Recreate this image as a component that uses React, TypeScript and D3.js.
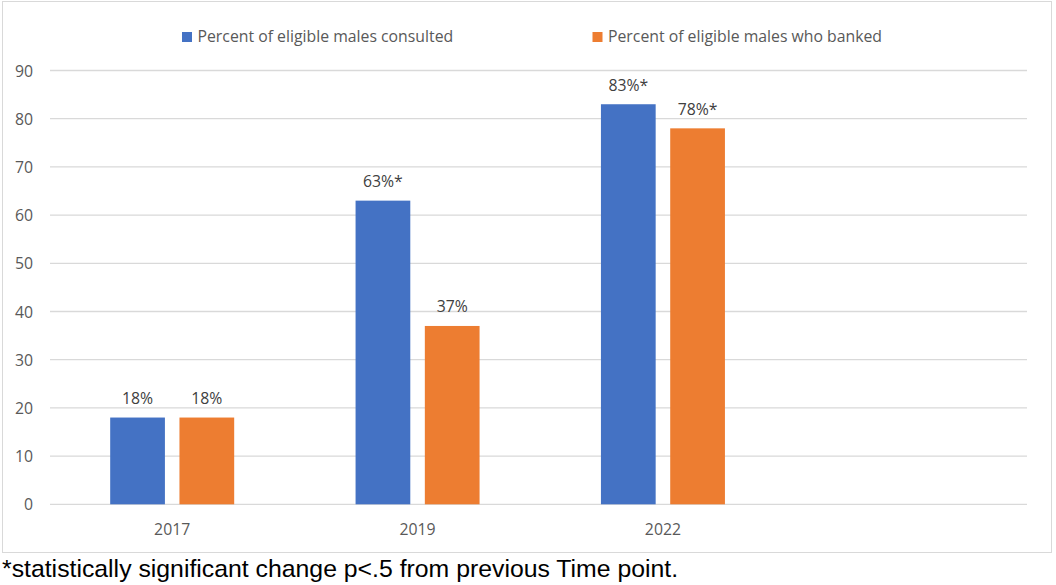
import React from "react";
import * as d3 from "d3";

const categories = ["2017", "2019", "2022"];
const consulted = [18, 63, 83];
const banked = [18, 37, 78];
const consultedLabels = ["18%", "63%*", "83%*"];
const bankedLabels = ["18%", "37%", "78%*"];
const seriesNames = ["Percent of eligible males consulted", "Percent of eligible males who banked"];
const yTicks = [0, 10, 20, 30, 40, 50, 60, 70, 80, 90];
const footnote = "*statistically significant change p<.5 from previous Time point.";

const W = 1056;
const H = 585;
const BLUE = "#4472C4";
const ORANGE = "#ED7D31";
const GRID = "#D9D9D9";
const TEXT = "#595959";
const FONT = "'Open Sans', Lato, sans-serif";
const FS = 15.8;

export default function App() {
  const plotLeft = 50;
  const plotRight = 1027;
  const y = d3.scaleLinear().domain([0, 90]).range([504.3, 70.5]);
  // four category slots; the last one is empty in the original
  const x0 = d3
    .scaleBand<string>()
    .domain([...categories, "__empty__"])
    .range([49.5, 1031])
    .paddingInner(0)
    .paddingOuter(0);
  const groupW = 124;
  const x1 = d3
    .scaleBand<number>()
    .domain([0, 1])
    .range([0, groupW])
    .paddingInner(0.21);
  const series = [
    { vals: consulted, labels: consultedLabels, color: BLUE },
    { vals: banked, labels: bankedLabels, color: ORANGE },
  ];

  return (
    <svg
      width={W}
      height={H}
      style={{ position: "absolute", left: 0, top: 0, background: "#fff" }}
    >
      <rect x={2.5} y={1.5} width={1049} height={551} fill="#fff" stroke={GRID} strokeWidth={1} />
      {yTicks.map((t) => (
        <g key={t}>
          <line x1={plotLeft} x2={plotRight} y1={y(t)} y2={y(t)} stroke={GRID} strokeWidth={1.3} />
          <text x={33} y={y(t) + 6} textAnchor="end" fontFamily={FONT} fontSize={FS} fill={TEXT}>
            {t}
          </text>
        </g>
      ))}
      {categories.map((c, i) => {
        const cx = x0(c)! + x0.bandwidth() / 2;
        const gx = cx - groupW / 2;
        return (
          <g key={c}>
            {series.map((s, j) => {
              const bx = gx + x1(j)!;
              const bw = x1.bandwidth();
              return (
                <g key={j}>
                  <rect x={bx} y={y(s.vals[i])} width={bw} height={y(0) - y(s.vals[i])} fill={s.color} />
                  <text
                    x={bx + bw / 2}
                    y={y(s.vals[i]) - 13.5}
                    textAnchor="middle"
                    fontFamily={FONT}
                    fontSize={FS}
                    fill="#404040"
                  >
                    {s.labels[i]}
                  </text>
                </g>
              );
            })}
            <text x={cx} y={535} textAnchor="middle" fontFamily={FONT} fontSize={FS} fill={TEXT}>
              {c}
            </text>
          </g>
        );
      })}
      {/* legend */}
      {[
        { x: 182, color: BLUE, name: seriesNames[0] },
        { x: 592.5, color: ORANGE, name: seriesNames[1] },
      ].map((l) => (
        <g key={l.name}>
          <rect x={l.x} y={32} width={10} height={10} fill={l.color} />
          <text x={l.x + 15.5} y={42} fontFamily={FONT} fontSize={FS} fill={TEXT}>
            {l.name}
          </text>
        </g>
      ))}
      <text x={2} y={577} fontFamily="'Liberation Sans', Arial, sans-serif" fontSize={24.8} fill="#000">
        {footnote}
      </text>
    </svg>
  );
}
